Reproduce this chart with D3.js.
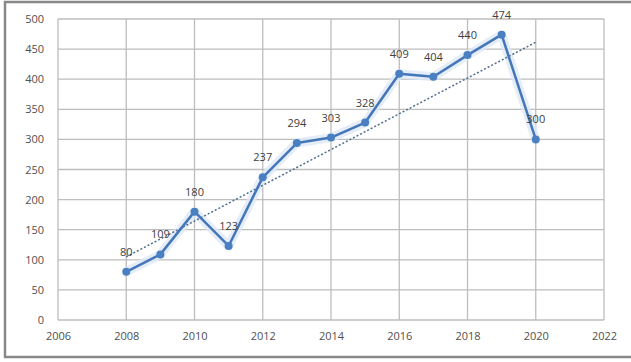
<!DOCTYPE html>
<html>
<head>
<meta charset="utf-8">
<script src="https://cdn.jsdelivr.net/npm/d3@7"></script>
<style>
  html, body { margin: 0; padding: 0; background: #fff; }
  svg { display: block; }
</style>
</head>
<body>
<svg id="chart" width="631" height="362"></svg>
<script>
// Yearly counts
const years  = [2008, 2009, 2010, 2011, 2012, 2013, 2014, 2015, 2016, 2017, 2018, 2019, 2020];
const values = [80, 109, 180, 123, 237, 294, 303, 328, 409, 404, 440, 474, 300];

// Axis ticks
const xTicks = [2006, 2008, 2010, 2012, 2014, 2016, 2018, 2020, 2022];
const yTicks = [0, 50, 100, 150, 200, 250, 300, 350, 400, 450, 500];

const svg = d3.select("#chart");
const font = "'Open Sans', 'Liberation Sans', sans-serif";

const plot = { left: 58, right: 604, top: 19, bottom: 320 };
const x = d3.scaleLinear().domain([2006, 2022]).range([plot.left, plot.right]);
const y = d3.scaleLinear().domain([0, 500]).range([plot.bottom, plot.top]);

// Outer frame
svg.append("rect")
  .attr("x", 5).attr("y", 2).attr("width", 640).attr("height", 355)
  .attr("fill", "none").attr("stroke", "#888").attr("stroke-width", 2.5);

// Gridlines
const grid = svg.append("g").attr("stroke", "#bdbdbd").attr("stroke-width", 1.3);
grid.selectAll("line.h").data(yTicks).join("line").attr("class", "h")
  .attr("x1", plot.left).attr("x2", plot.right)
  .attr("y1", d => y(d)).attr("y2", d => y(d));
grid.selectAll("line.v").data(xTicks).join("line").attr("class", "v")
  .attr("y1", plot.top).attr("y2", plot.bottom)
  .attr("x1", d => x(d)).attr("x2", d => x(d));

// Y axis labels
const yAxis = d3.axisLeft(y).tickValues(yTicks).tickSize(0).tickPadding(14);
svg.append("g").attr("transform", `translate(${plot.left},0)`).call(yAxis)
  .call(g => g.select(".domain").remove())
  .call(g => g.selectAll("text").attr("font-family", font).attr("font-size", 11).attr("fill", "#505050"));

// X axis labels
const xAxis = d3.axisBottom(x).tickValues(xTicks).tickFormat(d3.format("d")).tickSize(0).tickPadding(12);
svg.append("g").attr("transform", `translate(0,${plot.bottom})`).call(xAxis)
  .call(g => g.select(".domain").remove())
  .call(g => g.selectAll("text").attr("font-family", font).attr("font-size", 11).attr("fill", "#505050"));

// Linear trend line (least squares)
const pts = years.map((yr, i) => ({ yr, v: values[i] }));
const mx = d3.mean(years), my = d3.mean(values);
const slope = d3.sum(pts, p => (p.yr - mx) * (p.v - my)) / d3.sum(pts, p => (p.yr - mx) ** 2);
const trend = [years[0], years[years.length - 1]].map(yr => ({ yr, v: my + slope * (yr - mx) }));
const lineGen = d3.line().x(d => x(d.yr)).y(d => y(d.v));

// Soft glow under the series
svg.append("path").datum(pts).attr("d", lineGen)
  .attr("fill", "none").attr("stroke", "#dde9f6").attr("stroke-width", 9)
  .attr("stroke-linejoin", "round").attr("opacity", 0.8);

svg.append("path").datum(trend).attr("d", lineGen)
  .attr("fill", "none").attr("stroke", "#4f6f8f").attr("stroke-width", 1.5)
  .attr("stroke-dasharray", "2,2");

// Series line and markers
svg.append("path").datum(pts).attr("d", lineGen)
  .attr("fill", "none").attr("stroke", "#4576b8").attr("stroke-width", 2.5)
  .attr("stroke-linejoin", "round");
svg.selectAll("circle.pt").data(pts).join("circle").attr("class", "pt")
  .attr("cx", d => x(d.yr)).attr("cy", d => y(d.v)).attr("r", 4)
  .attr("fill", "#4a80c2");

// Data labels
svg.selectAll("text.lbl").data(pts).join("text").attr("class", "lbl")
  .attr("x", d => x(d.yr)).attr("y", d => y(d.v) - 16)
  .attr("text-anchor", "middle")
  .attr("font-family", font).attr("font-size", 11).attr("fill", "#404040")
  .text(d => d.v);
</script>
</body>
</html>
